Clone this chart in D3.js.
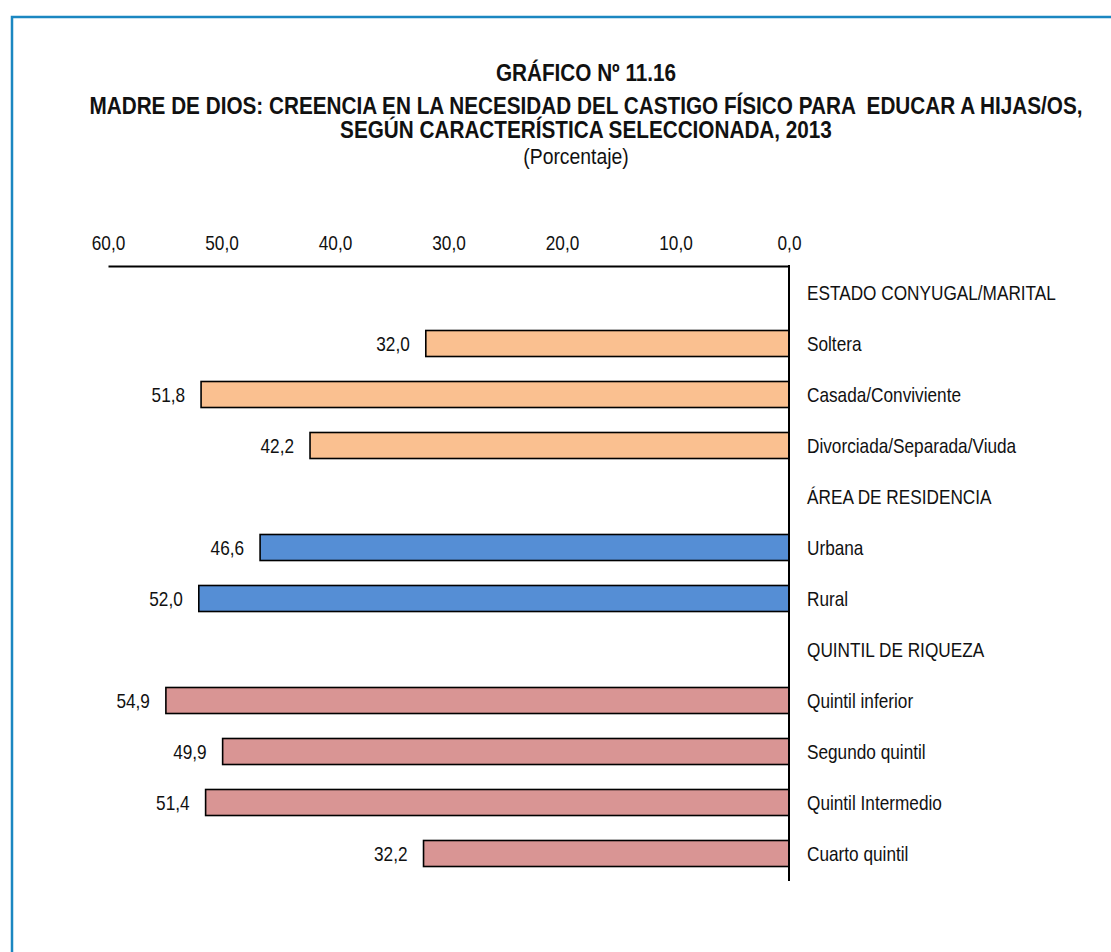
<!DOCTYPE html>
<html><head><meta charset="utf-8">
<script src="https://cdn.jsdelivr.net/npm/d3@7"></script>
<style>
html,body{margin:0;padding:0;background:#fff;}
svg{display:block;font-family:"Liberation Sans",Arial,sans-serif;}
</style></head>
<body>
<script>
const categories = ["ESTADO CONYUGAL/MARITAL","Soltera","Casada/Conviviente","Divorciada/Separada/Viuda","ÁREA DE RESIDENCIA","Urbana","Rural","QUINTIL DE RIQUEZA","Quintil inferior","Segundo quintil","Quintil Intermedio","Cuarto quintil"];
const values = [null,32.0,51.8,42.2,null,46.6,52.0,null,54.9,49.9,51.4,32.2];
const groups = ["h","estado","estado","estado","h","area","area","h","quintil","quintil","quintil","quintil"];
const groupColors = {estado:"#FAC090", area:"#558ED5", quintil:"#D99594"};
const tickValues = [60,50,40,30,20,10,0];
const titleLines = ["GRÁFICO Nº 11.16","MADRE DE DIOS: CREENCIA EN LA NECESIDAD DEL CASTIGO FÍSICO PARA  EDUCAR A HIJAS/OS,","SEGÚN CARACTERÍSTICA SELECCIONADA, 2013"];
const subtitle = "(Porcentaje)";

const W=1111,H=952;
const NARROW=0.82, FS=21;
const svg=d3.select("body").append("svg").attr("width",W).attr("height",H);
svg.append("rect").attr("x",12).attr("y",17).attr("width",1120).attr("height",960)
  .attr("fill","none").attr("stroke","#1B87C1").attr("stroke-width",2.5);

function addText(x,y,t,opts){
  const el=svg.append("text").attr("transform",`translate(${x},${y}) scale(${opts.sx},1)`)
    .attr("text-anchor",opts.anchor||"start").attr("font-size",opts.fs).attr("fill","#111")
    .attr("font-weight",opts.bold?"bold":"normal").style("white-space","pre").text(t);
  if(opts.dy) el.attr("dy",opts.dy);
  return el;
}

const tY=[81,114,138];
titleLines.forEach((t,i)=>addText(586,tY[i],t,{sx:0.882,fs:23.5,bold:true,anchor:"middle"}));
addText(576,164,subtitle,{sx:0.88,fs:22,anchor:"middle"});

const x=d3.scaleLinear().domain([0,60]).range([789,108]);
const y=d3.scaleBand().domain(categories).range([267,879]).paddingInner(0.49).paddingOuter(0.245);

const axis=d3.axisTop(x).tickValues(tickValues).tickSize(0).tickPadding(16)
  .tickFormat(d=>d3.format(".1f")(d).replace(".",","));
const ag=svg.append("g").attr("transform","translate(0,266)").call(axis);
ag.select(".domain").attr("stroke","#000").attr("stroke-width",2);
ag.selectAll("text").attr("font-size",FS).attr("fill","#111")
  .attr("font-family","Liberation Sans, Arial, sans-serif").attr("transform",`scale(${NARROW},1)`);

const data=categories.map((c,i)=>({c,v:values[i],g:groups[i]}));
svg.selectAll("rect.bar").data(data.filter(d=>d.v!=null)).enter().append("rect").attr("class","bar")
  .attr("x",d=>x(d.v)).attr("y",d=>y(d.c)).attr("width",d=>x(0)-x(d.v)).attr("height",y.bandwidth())
  .attr("fill",d=>groupColors[d.g]).attr("stroke","#000").attr("stroke-width",1.6);

svg.append("line").attr("x1",789).attr("x2",789).attr("y1",265).attr("y2",881).attr("stroke","#000").attr("stroke-width",2);

data.filter(d=>d.v!=null).forEach(d=>{
  addText(x(d.v)-16,y(d.c)+y.bandwidth()/2,d3.format(".1f")(d.v).replace(".",","),{sx:NARROW,fs:FS,anchor:"end",dy:"0.36em"});
});
data.forEach(d=>{
  addText(807,y(d.c)+y.bandwidth()/2,d.c,{sx:NARROW,fs:FS,dy:"0.36em"});
});
</script>
</body></html>
